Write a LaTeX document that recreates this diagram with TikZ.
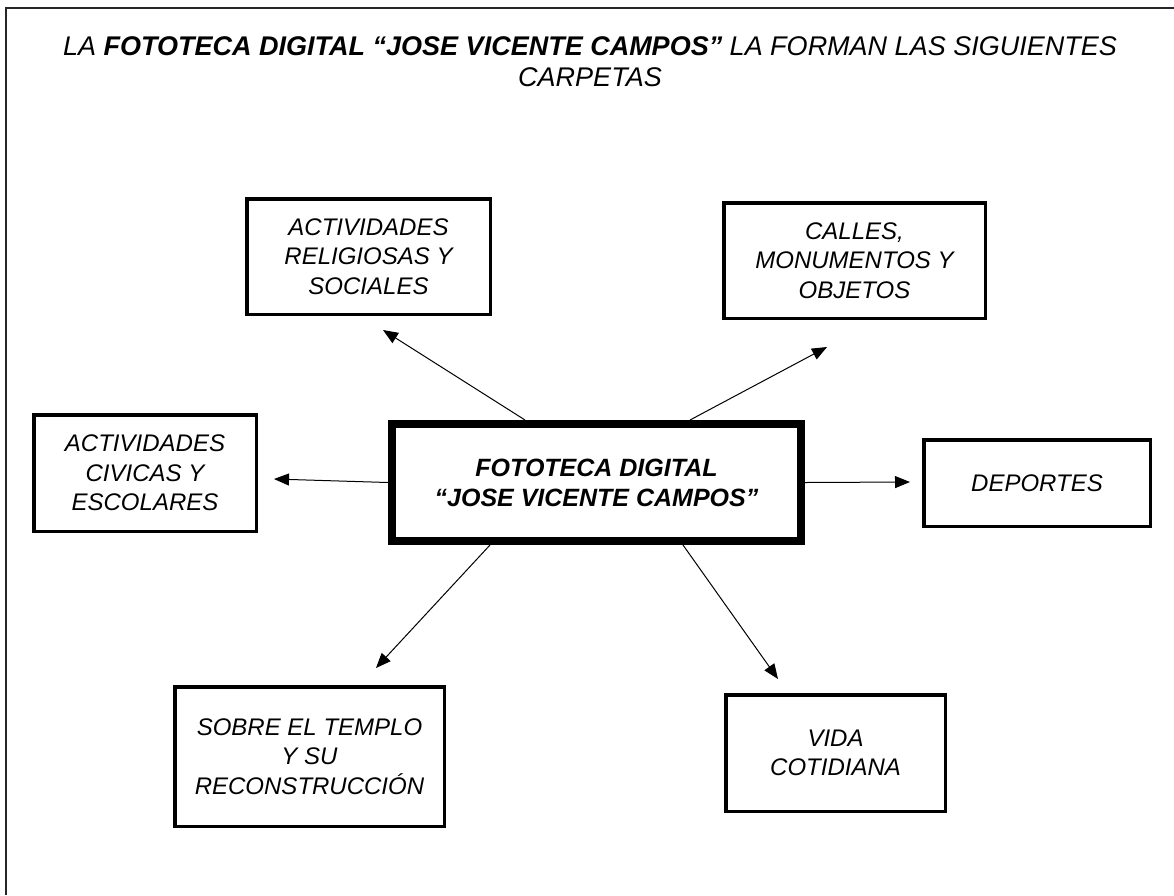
\documentclass[tikz,border=0pt]{standalone}
\usepackage{fontspec}
\setmainfont{Liberation Sans}
\usetikzlibrary{arrows.meta,calc}
\tikzset{
  box/.style={draw, line width=3.5pt, align=center, inner sep=0pt,
    font=\fontsize{24}{29.5}\selectfont\itshape},
  mainbox/.style={draw, line width=8pt, align=center, inner sep=0pt,
    font=\fontsize{25}{30}\selectfont\bfseries\itshape},
  conn/.style={line width=1pt, -{Triangle[length=15pt,width=12pt]}},
  frame/.style={line width=2pt, draw=black!85}
}
\begin{document}
\begin{tikzpicture}[x=1pt,y=-1pt]
\useasboundingbox (0,0) rectangle (1174,895);
\fill[white] (0,0) rectangle (1174,895);
\draw[frame] (6,895) -- (6,8) -- (1174,8);
\node[align=center, font=\fontsize{27}{31}\selectfont\itshape] (title) at (590,62)
  {LA \textbf{FOTOTECA DIGITAL “JOSE VICENTE CAMPOS”} LA FORMAN LAS SIGUIENTES\\CARPETAS};
\node[mainbox, minimum width=409pt, minimum height=117pt] (c) at (596.5,482.5)
  {FOTOTECA DIGITAL\\“JOSE VICENTE CAMPOS”};
\node[box, minimum width=243.5pt, minimum height=115.5pt] (rel) at (368.5,256.5)
  {ACTIVIDADES\\RELIGIOSAS Y\\SOCIALES};
\node[box, minimum width=261.5pt, minimum height=115.5pt] (cal) at (854.5,260.5)
  {CALLES,\\MONUMENTOS Y\\OBJETOS};
\node[box, minimum width=222.5pt, minimum height=116.5pt] (civ) at (145,473)
  {ACTIVIDADES\\CIVICAS Y\\ESCOLARES};
\node[box, minimum width=226.5pt, minimum height=86.5pt] (dep) at (1037,483)
  {DEPORTES};
\node[box, minimum width=269.5pt, minimum height=139.5pt] (tem) at (309.5,756.5)
  {SOBRE EL TEMPLO\\Y SU\\RECONSTRUCCIÓN};
\node[box, minimum width=219.5pt, minimum height=116.5pt] (vid) at (835.5,753)
  {VIDA\\COTIDIANA};
\coordinate (trel) at (383,330);
\coordinate (tcal) at (827,347);
\coordinate (tciv) at (274,479);
\coordinate (tdep) at (910,482);
\coordinate (ttem) at (376,668);
\coordinate (tvid) at (778,679);
\draw[conn] ([xshift=137pt]c.north west) -- (trel);
\draw[conn] ([xshift=302pt]c.north west) -- (tcal);
\draw[conn] (c.west) -- (tciv);
\draw[conn] (c.east) -- (tdep);
\draw[conn] ([xshift=102pt]c.south west) -- (ttem);
\draw[conn] ([xshift=295pt]c.south west) -- (tvid);
\end{tikzpicture}
\end{document}
